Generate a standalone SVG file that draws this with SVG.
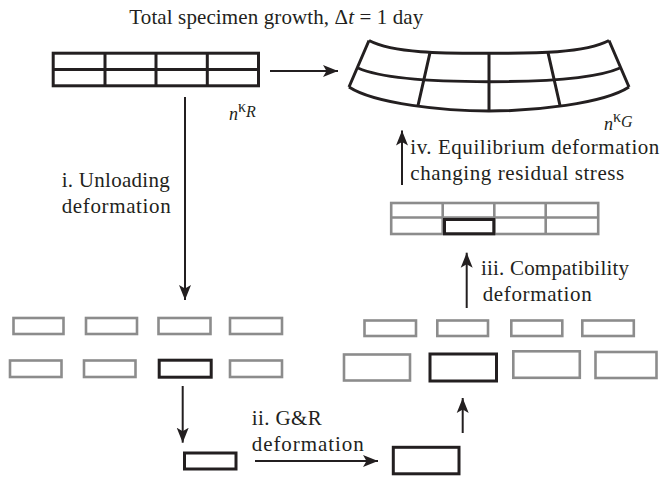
<svg xmlns="http://www.w3.org/2000/svg" width="662" height="477" viewBox="0 0 662 477">
  <defs>
    <marker id="ah" markerUnits="userSpaceOnUse" markerWidth="16" markerHeight="14" viewBox="-15 -7 16 14" refX="0" refY="0" orient="auto">
      <path d="M0,0 L-15,-6 L-11.5,0 L-15,6 Z" fill="#231f20"/>
    </marker>
  </defs>
  <style>
    .lbl { font-family: "Liberation Serif", "Times New Roman", serif; font-size: 21px; fill: #231f20; }
    .sym { font-family: "Liberation Serif", "Times New Roman", serif; fill: #231f20; }
    .it { font-style: italic; }
    .blk { fill: none; stroke: #231f20; stroke-width: 3; }
    .gry { fill: none; stroke: #8c8c8c; stroke-width: 2.6; }
    .cell { fill: none; stroke: #231f20; stroke-width: 3; }
    .conn line { stroke: #231f20; stroke-width: 2; marker-end: url(#ah); }
  </style>

  <!-- heading -->
  <text class="lbl" x="129.3" y="24" textLength="294" lengthAdjust="spacing">Total specimen growth, Δ<tspan class="it">t</tspan> = 1 day</text>

  <!-- reference configuration -->
  <g id="config-R">
    <rect class="blk" x="53.2" y="53.2" width="205.3" height="32.6"/>
    <path class="blk" d="M53.2,69.5 H258.5 M105,53.2 V85.8 M156,53.2 V85.8 M207.3,53.2 V85.8"/>
    <text class="sym" y="120"><tspan class="it" x="229" font-size="18">n</tspan><tspan font-size="16" y="111.5">κ</tspan><tspan class="it" font-size="16" y="117">R</tspan></text>
  </g>

  <!-- grown configuration (curved mesh) -->
  <g id="config-G">
    <path class="blk" d="M369,40.5 C395,54 449,53.3 489,53.3 C529,53.3 583,54 609,40.5"/>
    <path class="blk" d="M358,68 C385,80 449,81.7 489,81.7 C529,81.7 593,80 620,68"/>
    <path class="blk" d="M349,87 C375,104 445,111 489,111 C533,111 603,104 629,87"/>
    <path class="blk" d="M369,40.5 L349,87 M609,40.5 L629,87 M430,52.7 L418,105.5 M489,53.3 V111 M548,52.7 L560,105.5"/>
    <text class="sym" y="130"><tspan class="it" x="604" font-size="18">n</tspan><tspan font-size="16" y="121.5">κ</tspan><tspan class="it" font-size="16" y="127">G</tspan></text>
  </g>

  <!-- unloaded elements -->
  <g id="unloaded">
    <rect class="gry" x="13.5" y="318" width="50" height="16"/>
    <rect class="gry" x="86" y="318" width="51" height="16"/>
    <rect class="gry" x="158.5" y="318" width="52" height="16"/>
    <rect class="gry" x="230" y="318" width="52" height="16"/>
    <rect class="gry" x="10" y="360.5" width="51.5" height="16.5"/>
    <rect class="gry" x="84" y="360.5" width="51.5" height="16.5"/>
    <rect class="cell" x="159.2" y="360.2" width="52" height="17"/>
    <rect class="gry" x="230" y="360.5" width="52" height="16.5"/>
  </g>

  <!-- single element before growth -->
  <g id="element-unloaded">
    <rect class="cell" x="184.5" y="453" width="51.5" height="16"/>
  </g>

  <!-- single element after growth -->
  <g id="element-grown">
    <rect class="cell" x="393.3" y="447.3" width="65.7" height="26.5"/>
  </g>

  <!-- grown elements, unassembled and made compatible -->
  <g id="grown-elements">
    <rect class="gry" x="364.5" y="320.5" width="51.5" height="15.5"/>
    <rect class="gry" x="437.3" y="320.5" width="50.7" height="15.5"/>
    <rect class="gry" x="511.3" y="320.5" width="51" height="15.5"/>
    <rect class="gry" x="582.3" y="320.5" width="51.5" height="15.5"/>
    <rect class="gry" x="344" y="354.5" width="66" height="26"/>
    <rect class="cell" x="430" y="354" width="66.5" height="27"/>
    <rect class="gry" x="513.3" y="351.3" width="66.5" height="26.5"/>
    <rect class="gry" x="595.5" y="352" width="61" height="26"/>
  </g>

  <!-- compatible mesh with residual stress -->
  <g id="compatible">
    <rect class="gry" x="391.2" y="203" width="207" height="31"/>
    <path class="gry" d="M391.2,217.5 H598.2 M442.7,203 V234 M494.3,203 V234 M545.7,203 V234"/>
    <rect class="cell" x="444.5" y="219.5" width="49.3" height="14.3"/>
  </g>

  <!-- connectors -->
  <g id="connectors" class="conn">
    <line x1="270" y1="71" x2="338" y2="71"/>
    <line x1="185" y1="97" x2="185" y2="300"/>
    <line x1="182.7" y1="386" x2="182.7" y2="442.7"/>
    <line x1="255" y1="461" x2="378" y2="461"/>
    <line x1="462.7" y1="433" x2="462.7" y2="398"/>
    <line x1="466.7" y1="308" x2="466.7" y2="252.7"/>
    <line x1="402" y1="185" x2="402" y2="130.5"/>
  </g>

  <!-- step labels -->
  <g id="labels">
    <text class="lbl" x="61.7" y="187.3" textLength="108" lengthAdjust="spacing">i. Unloading</text>
    <text class="lbl" x="61.7" y="212.7" textLength="109" lengthAdjust="spacing">deformation</text>
    <text class="lbl" x="251.7" y="425" textLength="70" lengthAdjust="spacing">ii. G&amp;R</text>
    <text class="lbl" x="251.7" y="451" textLength="112" lengthAdjust="spacing">deformation</text>
    <text class="lbl" x="481" y="275" textLength="148" lengthAdjust="spacing">iii. Compatibility</text>
    <text class="lbl" x="482.7" y="300.7" textLength="109" lengthAdjust="spacing">deformation</text>
    <text class="lbl" x="410.3" y="154" textLength="249" lengthAdjust="spacing">iv. Equilibrium deformation</text>
    <text class="lbl" x="410.3" y="180" textLength="214" lengthAdjust="spacing">changing residual stress</text>
  </g>
</svg>
